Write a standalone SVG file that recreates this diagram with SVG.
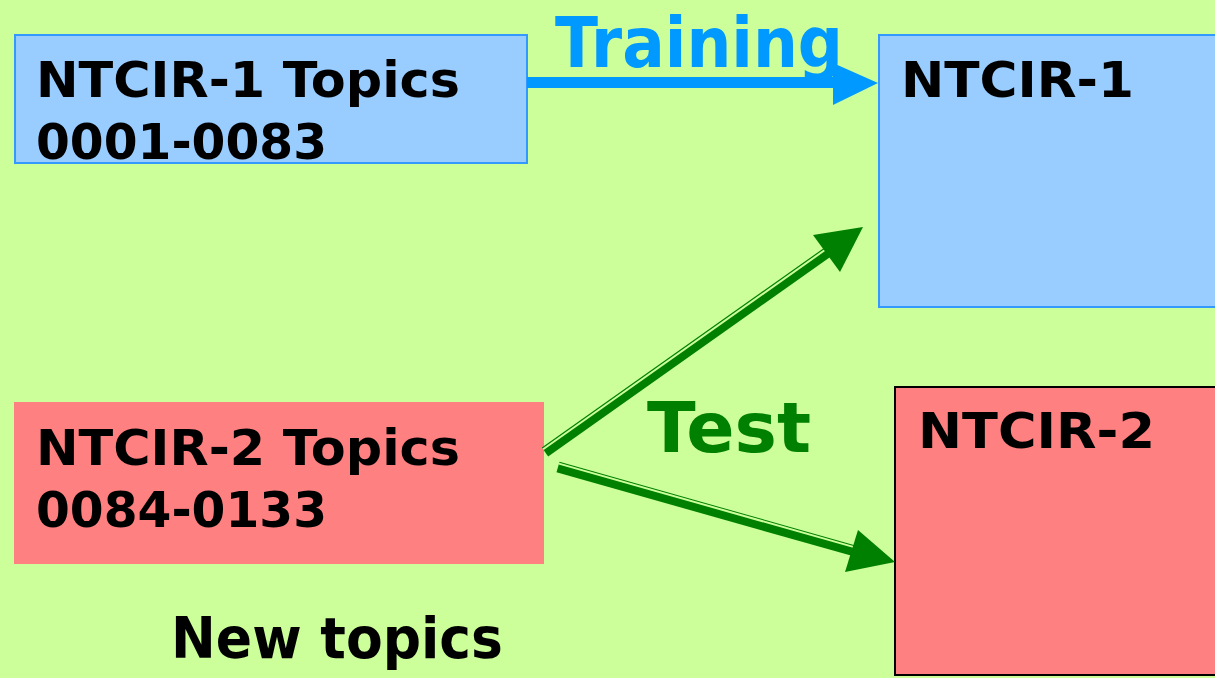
<svg xmlns="http://www.w3.org/2000/svg" width="1215" height="678" viewBox="0 0 1215 678">
<style>
.t{font-family:"DejaVu Sans","Liberation Sans",sans-serif;font-weight:bold;}
.box{font-size:49px;fill:#000;}
.blue{fill:#99CCFF;stroke:#3399FF;stroke-width:2;}
.pink{fill:#FF8080;}
.g{stroke:#008000;stroke-width:11;fill:none;}
.gap{stroke:#CCFF99;stroke-width:2;fill:none;}
</style>
<rect x="0" y="0" width="1215" height="678" fill="#CCFF99"/>
<g id="ntcir1-topics">
<rect class="blue" x="15" y="35" width="512" height="128"/>
<text class="t box" x="36" y="97" textLength="424" lengthAdjust="spacingAndGlyphs">NTCIR-1 Topics</text>
<text class="t box" x="36" y="159" textLength="291" lengthAdjust="spacingAndGlyphs">0001-0083</text>
</g>
<g id="ntcir1">
<rect class="blue" x="879" y="35" width="340" height="272"/>
<text class="t box" x="901" y="97" textLength="233" lengthAdjust="spacingAndGlyphs">NTCIR-1</text>
</g>
<g id="ntcir2-topics">
<rect class="pink" x="14" y="402" width="530" height="162"/>
<text class="t box" x="36" y="465" textLength="424" lengthAdjust="spacingAndGlyphs">NTCIR-2 Topics</text>
<text class="t box" x="36" y="527" textLength="291" lengthAdjust="spacingAndGlyphs">0084-0133</text>
</g>
<g id="ntcir2">
<rect class="pink" x="895" y="387" width="330" height="288" stroke="#000" stroke-width="2"/>
<text class="t box" x="918" y="448" textLength="237" lengthAdjust="spacingAndGlyphs">NTCIR-2</text>
</g>
<g id="new-topics">
<text class="t" x="171" y="658" font-size="57" fill="#000" textLength="332" lengthAdjust="spacingAndGlyphs">New topics</text>
</g>
<g id="connectors">
<line x1="527" y1="82.5" x2="838" y2="82.5" stroke="#0099FF" stroke-width="11"/>
<polygon points="833,63 878,83 833,105" fill="#0099FF"/>
<text class="t" x="555" y="67" font-size="69" fill="#0099FF" textLength="288" lengthAdjust="spacingAndGlyphs">Training</text>
<line class="g" x1="545" y1="452" x2="832" y2="249"/>
<line class="gap" x1="543.1" y1="449.3" x2="830.1" y2="246.3"/>
<polygon points="813,235 863,227 840,272" fill="#008000"/>
<line class="g" x1="558" y1="467" x2="855" y2="551"/>
<line class="gap" x1="558.9" y1="463.6" x2="855.9" y2="547.6"/>
<polygon points="858,530 895,562 845,572" fill="#008000"/>
<text class="t" x="647" y="452" font-size="69" fill="#008000" textLength="164" lengthAdjust="spacingAndGlyphs">Test</text>
</g>
</svg>
